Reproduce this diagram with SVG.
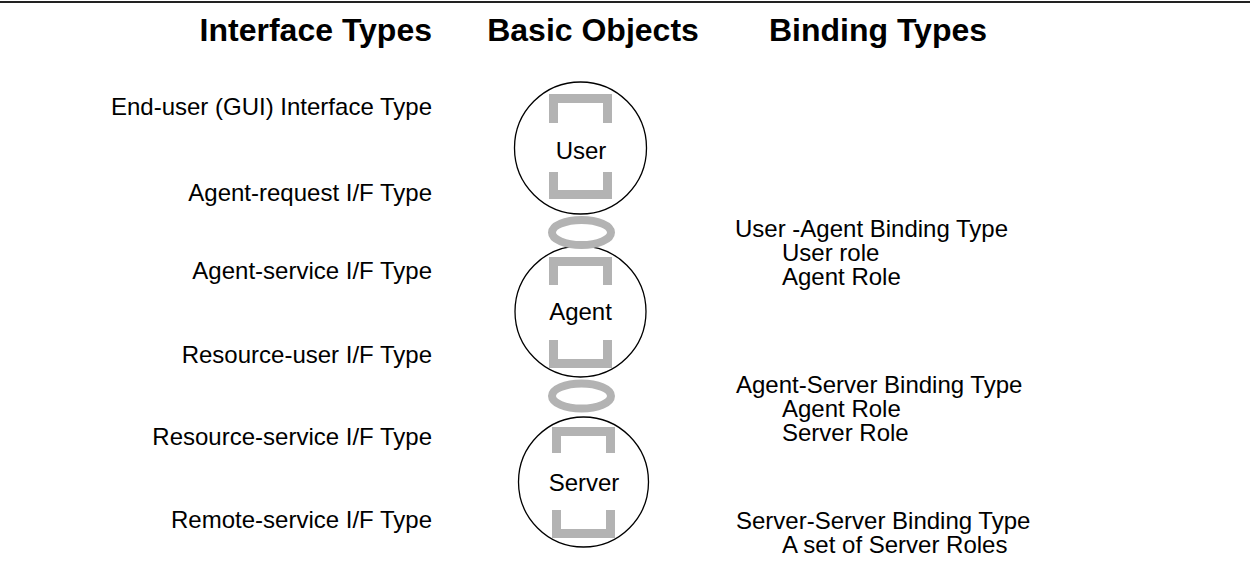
<svg xmlns="http://www.w3.org/2000/svg" width="1250" height="576" viewBox="0 0 1250 576">
<style>
.hdr{font-family:"Liberation Sans",Arial,sans-serif;font-weight:bold;font-size:32px;fill:#000}
.lbl{font-family:"Liberation Sans",Arial,sans-serif;font-size:24px;fill:#000}
.end{text-anchor:end}
.mid{text-anchor:middle}
.obj{fill:#fff;stroke:#000;stroke-width:1.3}
.brk{fill:none;stroke:#b3b3b3;stroke-width:9;stroke-linejoin:miter;stroke-linecap:butt}
.ring{fill:none;stroke:#b3b3b3;stroke-width:8}
</style>
<rect x="0" y="0" width="1250" height="576" fill="#fff"/>
<line x1="0" y1="2" x2="1250" y2="2" stroke="#222" stroke-width="2"/>
<g id="headers">
<text class="hdr end" x="432" y="41">Interface Types</text>
<text class="hdr mid" x="593" y="41">Basic Objects</text>
<text class="hdr mid" x="878" y="41">Binding Types</text>
</g>
<g id="interface-types">
<text class="lbl end" x="432" y="115">End-user (GUI) Interface Type</text>
<text class="lbl end" x="432" y="201">Agent-request I/F Type</text>
<text class="lbl end" x="432" y="279">Agent-service I/F Type</text>
<text class="lbl end" x="432" y="363">Resource-user I/F Type</text>
<text class="lbl end" x="432" y="445">Resource-service I/F Type</text>
<text class="lbl end" x="432" y="528">Remote-service I/F Type</text>
</g>
<g id="node-user">
<circle class="obj" cx="580.5" cy="148" r="66"/>
<path class="brk" d="M553.5,123 V98.5 H607.5 V123"/>
<path class="brk" d="M553.5,172 V194.5 H607.5 V172"/>
<text class="lbl mid" x="581" y="159">User</text>
</g>
<g id="node-agent">
<circle class="obj" cx="580.5" cy="311.5" r="65.5"/>
<path class="brk" d="M553.5,285 V261.5 H607.5 V285"/>
<path class="brk" d="M553.5,340 V363.5 H607.5 V340"/>
<text class="lbl mid" x="580.5" y="320">Agent</text>
</g>
<g id="node-server">
<circle class="obj" cx="583.5" cy="482" r="65"/>
<path class="brk" d="M556.5,453 V431.5 H610.5 V453"/>
<path class="brk" d="M556.5,510 V533.5 H610.5 V510"/>
<text class="lbl mid" x="584" y="491">Server</text>
</g>
<g id="connectors">
<ellipse class="ring" cx="581.5" cy="232.5" rx="29.5" ry="12.5"/>
<ellipse class="ring" cx="581.5" cy="396" rx="29.5" ry="12.5"/>
</g>
<g id="binding-user-agent">
<text class="lbl" x="735" y="237">User -Agent Binding Type</text>
<text class="lbl" x="782" y="261">User role</text>
<text class="lbl" x="782" y="285">Agent Role</text>
</g>
<g id="binding-agent-server">
<text class="lbl" x="736" y="393">Agent-Server Binding Type</text>
<text class="lbl" x="782" y="417">Agent Role</text>
<text class="lbl" x="782" y="441">Server Role</text>
</g>
<g id="binding-server-server">
<text class="lbl" x="736" y="529">Server-Server Binding Type</text>
<text class="lbl" x="782" y="553">A set of Server Roles</text>
</g>
</svg>
